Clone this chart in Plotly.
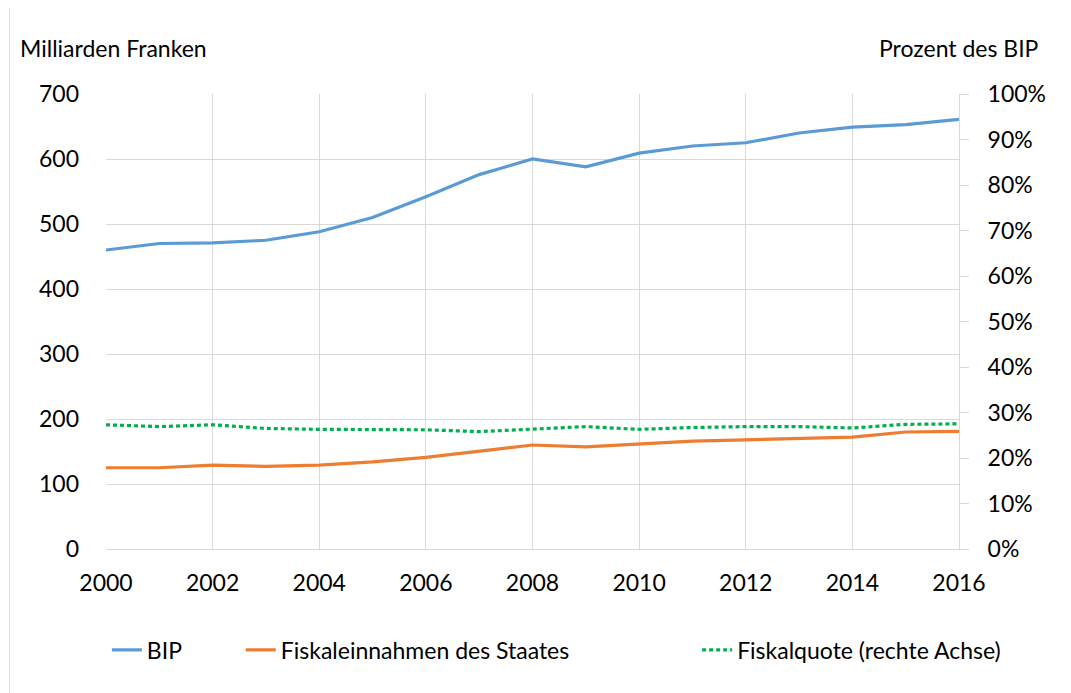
import plotly.graph_objects as go

years = list(range(2000, 2017))
bip = [460, 470, 471, 475, 488, 510, 542, 576, 600, 588, 609, 620, 625, 640, 649, 653, 661]
fiskaleinnahmen = [125, 125, 129, 127, 129, 134, 141, 150, 160, 157, 161, 166, 168, 170, 172, 180, 181]
fiskalquote = [27.3, 26.9, 27.3, 26.5, 26.3, 26.3, 26.2, 25.8, 26.3, 26.9, 26.3, 26.7, 26.9, 26.9, 26.6, 27.4, 27.5]

left_ticks = [0, 100, 200, 300, 400, 500, 600, 700]
right_ticks = [0, 10, 20, 30, 40, 50, 60, 70, 80, 90, 100]
x_ticks = list(range(2000, 2017, 2))

FONT = "Lato"
FS = 23
GRID = "#d9d9d9"

fig = go.Figure()
fig.add_trace(go.Scatter(x=years, y=bip, name="BIP", mode="lines",
                         line=dict(color="#5B9BD5", width=3.2), legend="legend"))
fig.add_trace(go.Scatter(x=years, y=fiskaleinnahmen, name="Fiskaleinnahmen des Staates", mode="lines",
                         line=dict(color="#ED7D31", width=3.2), legend="legend2"))
fig.add_trace(go.Scatter(x=years, y=fiskalquote, name="Fiskalquote (rechte Achse)", mode="lines",
                         line=dict(color="#00B050", width=3.2, dash="4px,3px"), yaxis="y2",
                         legend="legend3"))

leg_common = dict(orientation="h", xanchor="left", y=-0.222, yanchor="middle",
                  font=dict(family=FONT, size=FS), bgcolor="rgba(0,0,0,0)")

fig.update_layout(
    width=1071, height=693,
    margin=dict(l=98, r=120, t=86, b=152),
    paper_bgcolor="white", plot_bgcolor="white",
    font=dict(family=FONT, size=FS, color="#000000"),
    showlegend=True,
    legend=dict(x=0.001, **leg_common),
    legend2=dict(x=0.158, **leg_common),
    legend3=dict(x=0.693, **leg_common),
    xaxis=dict(range=[2000, 2016], tickvals=x_ticks, showgrid=True, gridcolor=GRID, gridwidth=1,
               showline=True, linecolor=GRID, linewidth=1, zeroline=False, ticks="",
               ticklabelstandoff=13, tickfont=dict(family=FONT, size=FS)),
    yaxis=dict(range=[0, 700], tickvals=left_ticks, showgrid=True, gridcolor=GRID, gridwidth=1,
               showline=False, zeroline=False, ticks="", ticklabelstandoff=26,
               tickfont=dict(family=FONT, size=FS)),
    yaxis2=dict(range=[0, 100], tickvals=right_ticks, ticktext=[f"{v}%" for v in right_ticks],
                overlaying="y", side="right", showgrid=False, zeroline=False,
                showline=True, linecolor=GRID, linewidth=1, ticks="outside", ticklen=9,
                tickcolor=GRID, ticklabelstandoff=14, tickfont=dict(family=FONT, size=FS)),
    annotations=[
        dict(text="Milliarden Franken", xref="paper", yref="paper", x=-0.103, y=1.101,
             xanchor="left", yanchor="middle", showarrow=False, font=dict(family=FONT, size=FS)),
        dict(text="Prozent des BIP", xref="paper", yref="paper", x=1.096, y=1.101,
             xanchor="right", yanchor="middle", showarrow=False, font=dict(family=FONT, size=FS)),
    ],
    shapes=[
        dict(type="rect", xref="paper", yref="paper", x0=-0.113, x1=1.4, y0=-0.5, y1=1.196,
             line=dict(color="#d9d9d9", width=1), fillcolor="rgba(0,0,0,0)", layer="below"),
    ],
)

fig.write_html("out.html")
